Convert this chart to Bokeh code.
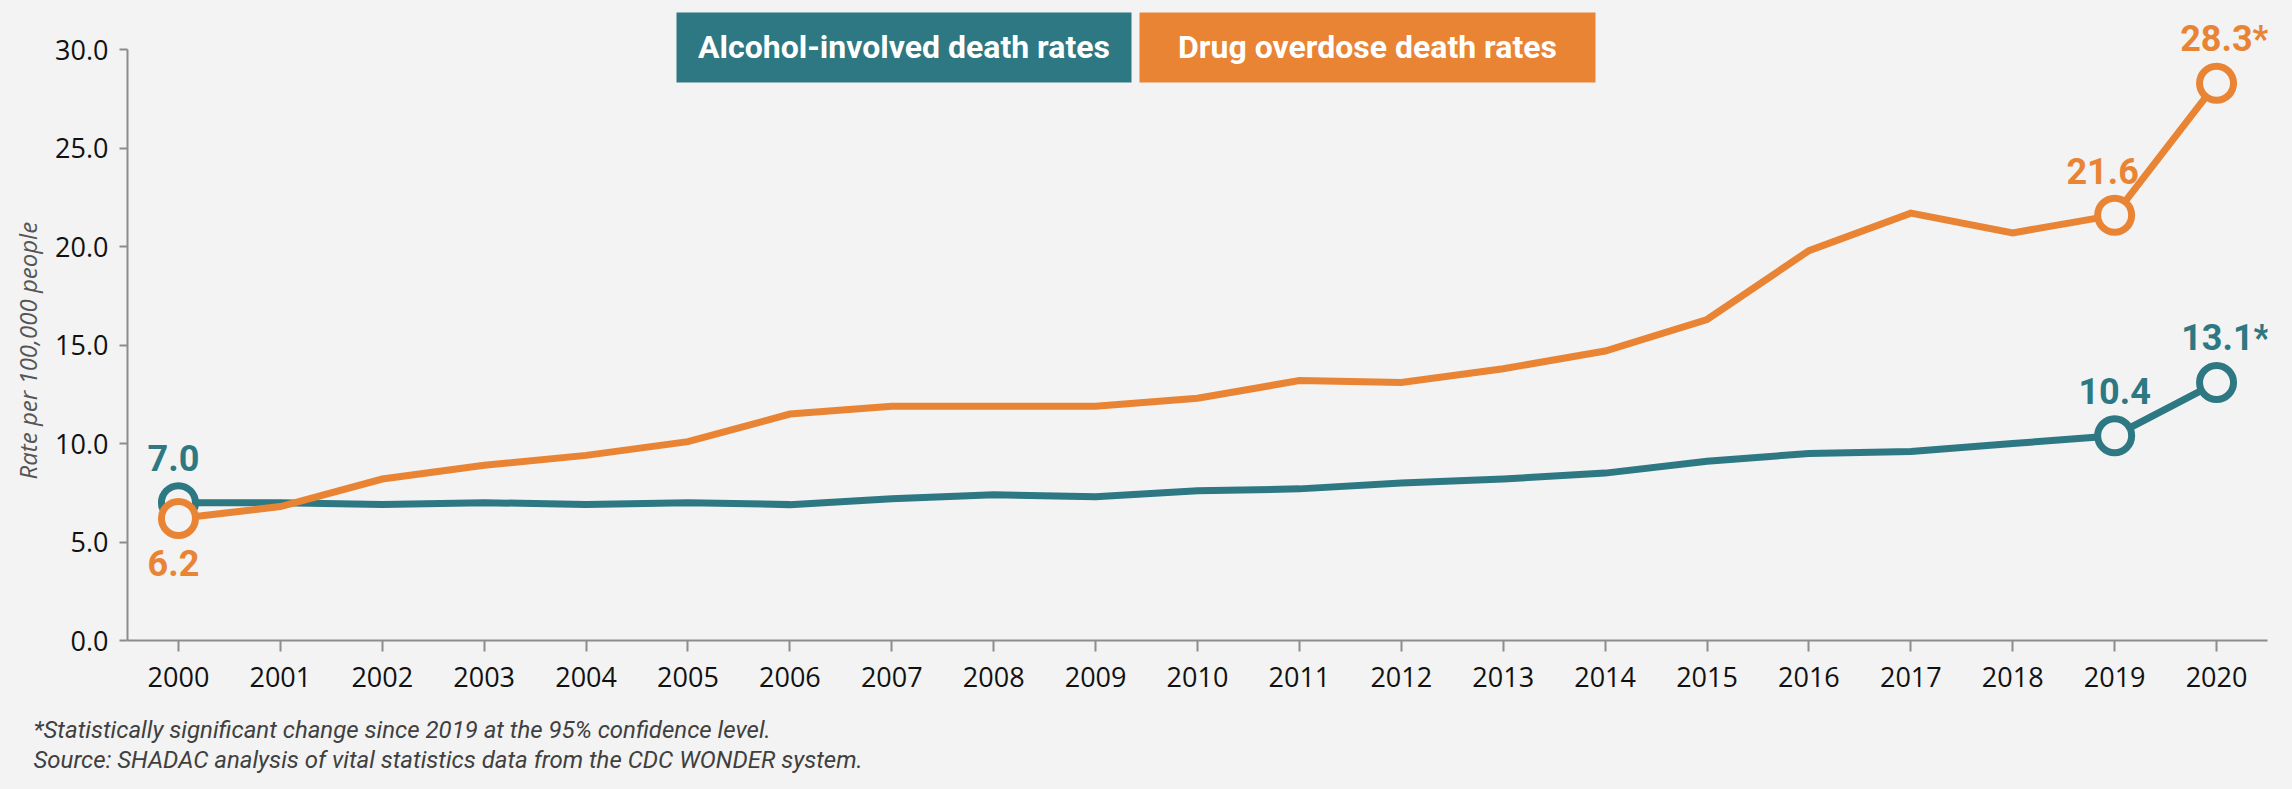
from bokeh.plotting import figure
from bokeh.models import FixedTicker, Range1d, Label, BoxAnnotation, ColumnDataSource, CustomJSTickFormatter, Title
from bokeh.core.properties import value
from bokeh.embed import file_html
from bokeh.resources import INLINE

# ---------------- data ----------------
years = list(range(2000, 2021))
alcohol = [7.0, 7.0, 6.9, 7.0, 6.9, 7.0, 6.9, 7.2, 7.4, 7.3, 7.6, 7.7, 8.0, 8.2, 8.5, 9.1, 9.5, 9.6, 10.0, 10.4, 13.1]
drug = [6.2, 6.8, 8.2, 8.9, 9.4, 10.1, 11.5, 11.9, 11.9, 11.9, 12.3, 13.2, 13.1, 13.8, 14.7, 16.3, 19.8, 21.7, 20.7, 21.6, 28.3]
highlight_years = [2000, 2019, 2020]
significant_years = [2020]
y_ticks = [0, 5, 10, 15, 20, 25, 30]
series_names = ["Alcohol-involved death rates", "Drug overdose death rates"]
y_axis_label = "Rate per 100,000 people"
footnotes = [
    "*Statistically significant change since 2019 at the 95% confidence level.",
    "Source: SHADAC analysis of vital statistics data from the CDC WONDER system.",
]

# ---------------- style ----------------
BG = "#F2F3F2"
TEAL = "#2D7882"
ORANGE = "#E98434"
AXIS = "#8C8C8C"
COND = "Roboto"
REG = "Open Sans"

p = figure(width=2276, height=773, output_backend="svg", toolbar_location=None,
           x_range=Range1d(1999.5, 2020.5), y_range=Range1d(0, 32.50),
           min_border_left=125, min_border_right=9, min_border_top=0, min_border_bottom=132)
p.background_fill_color = BG
p.border_fill_color = BG
p.outline_line_color = None
p.xgrid.visible = False
p.ygrid.visible = False

# axes
p.yaxis.ticker = FixedTicker(ticks=y_ticks)
p.yaxis.formatter = CustomJSTickFormatter(code="return tick.toFixed(1);")
p.yaxis.bounds = (0, 30)
p.xaxis.ticker = FixedTicker(ticks=years)
p.xaxis.formatter = CustomJSTickFormatter(code="return tick.toFixed(0);")
for ax in (p.xaxis, p.yaxis):
    ax.axis_line_color = AXIS
    ax.axis_line_width = 2
    ax.major_tick_line_color = AXIS
    ax.major_tick_line_width = 2
    ax.minor_tick_line_color = None
    ax.major_tick_in = 0
    ax.major_label_text_font = REG
    ax.major_label_text_font_size = "27px"
    ax.major_label_text_color = "#111111"
p.yaxis.major_tick_out = 8
p.yaxis.major_label_standoff = 11
p.xaxis.major_tick_out = 11
p.xaxis.major_label_standoff = 15

# y-axis title, placed along the 0-30 part of the axis
p.add_layout(Title(text=y_axis_label, align="left", offset=161, standoff=17,
                   text_font=REG, text_font_style="italic", text_font_size="24px",
                   text_color="#555555"), "left")

# data sources
src = ColumnDataSource(dict(year=years, alcohol=alcohol, drug=drug))

def hl(vals):
    xs, ys, labels = [], [], []
    for yr, v in zip(years, vals):
        if yr in highlight_years:
            xs.append(yr)
            ys.append(v)
            labels.append(f"{v:.1f}" + ("*" if yr in significant_years else ""))
    return ColumnDataSource(dict(x=xs, y=ys, label=labels))

alc_hl = hl(alcohol)
drug_hl = hl(drug)

p.line("year", "alcohol", source=src, line_color=TEAL, line_width=7, line_join="miter")
p.line("year", "drug", source=src, line_color=ORANGE, line_width=7, line_join="miter")
p.scatter("x", "y", source=alc_hl, size=34, line_width=7, line_color=TEAL, fill_color=BG)
p.scatter("x", "y", source=drug_hl, size=34, line_width=7, line_color=ORANGE, fill_color=BG)

# value labels (pixel offsets only)
alc_hl.data["xo"] = [-5, 0, 9]
drug_hl.data["xo"] = [-5, -12, 8]
drug_hl.data["yo"] = [45, -44, -44]
p.text("x", "y", text="label", source=alc_hl, x_offset="xo", y_offset=-45,
       text_align="center", text_baseline="alphabetic", text_color=TEAL,
       text_font=value(COND), text_font_style="bold", text_font_size="36px")
p.text("x", "y", text="label", source=drug_hl, x_offset="xo", y_offset="yo",
       text_align="center", text_baseline="alphabetic", text_color=ORANGE,
       text_font=value(COND), text_font_style="bold", text_font_size="36px")

# legend boxes (screen units, relative to the frame)
boxes = [(549, 1004, TEAL), (1012, 1468, ORANGE)]
for (l, r, c), name in zip(boxes, series_names):
    p.add_layout(BoxAnnotation(left=l, right=r, top=628, bottom=558,
                               left_units="screen", right_units="screen",
                               top_units="screen", bottom_units="screen",
                               fill_color=c, fill_alpha=1.0, line_color=None))
    p.add_layout(Label(x=(l + r) / 2, y=594, x_units="screen", y_units="screen",
                       text=name, text_align="center", text_baseline="alphabetic",
                       text_color="white", text_font=COND, text_font_style="bold",
                       text_font_size="32px"))

# footnotes below the x axis (a thin spacer first)
p.add_layout(Title(text=" ", standoff=21, text_font_size="1px"), "below")
for t in footnotes:
    p.add_layout(Title(text=t, align="left", offset=-94, standoff=0,
                       text_font=COND, text_font_style="italic", text_font_size="24px",
                       text_color="#404040"), "below")

html = file_html(p, INLINE)
html = html.replace("<head>", "<head><style>html,body{background:%s;}</style>" % BG, 1)
open("out.html", "w").write(html)
